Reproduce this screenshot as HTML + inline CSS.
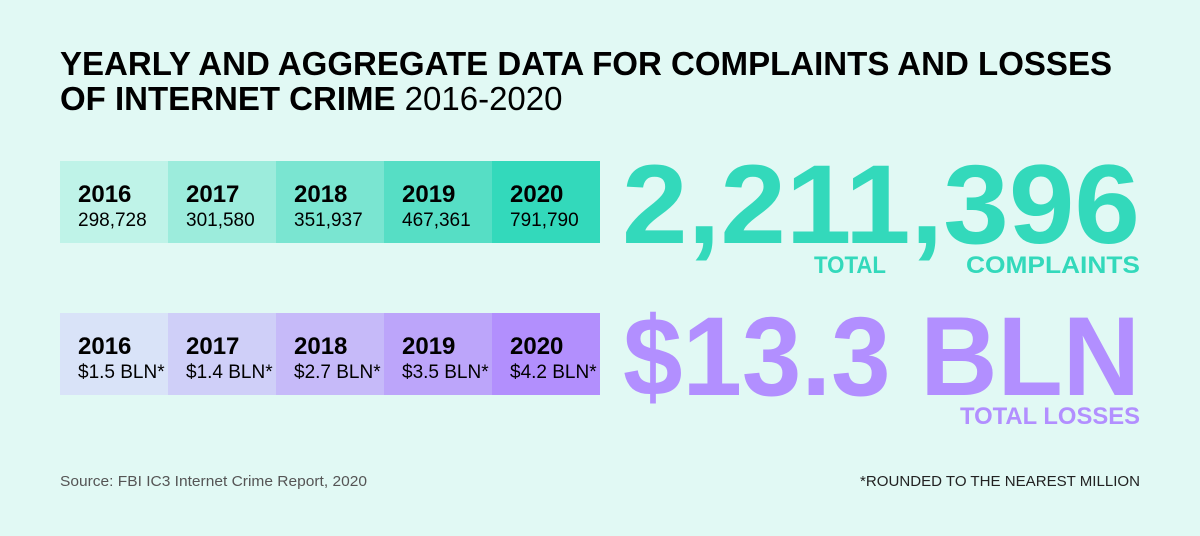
<!DOCTYPE html>
<html><head><meta charset="utf-8"><style>
html,body{margin:0;padding:0;background:#e1f9f4;}
svg{display:block;font-family:"Liberation Sans",sans-serif;}
</style></head><body>
<svg id="c" width="1200" height="536" viewBox="0 0 1200 536">
<rect width="1200" height="536" fill="#e1f9f4"/>
<text x="60" y="75" font-size="33" font-weight="bold" fill="#000" textLength="1052" lengthAdjust="spacingAndGlyphs">YEARLY AND AGGREGATE DATA FOR COMPLAINTS AND LOSSES</text>
<text x="60" y="110" font-size="33" fill="#000"><tspan font-weight="bold">OF INTERNET CRIME</tspan> 2016-2020</text>
<g id="cells"></g>
<text x="622" y="243" font-size="112" font-weight="bold" fill="#33d9bb" textLength="518" lengthAdjust="spacingAndGlyphs">2,211,396</text>
<text x="814" y="273" font-size="24" font-weight="bold" fill="#33d9bb" textLength="72" lengthAdjust="spacingAndGlyphs">TOTAL</text>
<text x="966" y="273" font-size="24" font-weight="bold" fill="#33d9bb" textLength="174" lengthAdjust="spacingAndGlyphs">COMPLAINTS</text>
<text x="623" y="395" font-size="112" font-weight="bold" fill="#b28fff" textLength="517" lengthAdjust="spacingAndGlyphs">$13.3 BLN</text>
<text x="960" y="424" font-size="24" font-weight="bold" fill="#b28fff" textLength="180" lengthAdjust="spacingAndGlyphs">TOTAL LOSSES</text>
<text x="60" y="486" font-size="15" fill="#555" textLength="307" lengthAdjust="spacingAndGlyphs">Source: FBI IC3 Internet Crime Report, 2020</text>
<text x="860" y="486" font-size="15" fill="#222" textLength="280" lengthAdjust="spacingAndGlyphs">*ROUNDED TO THE NEAREST MILLION</text>
</svg>
<script>
const years=["2016","2017","2018","2019","2020"];
const complaints=["298,728","301,580","351,937","467,361","791,790"];
const losses=["$1.5 BLN*","$1.4 BLN*","$2.7 BLN*","$3.5 BLN*","$4.2 BLN*"];
const tealColors=["#bff3e8","#9cecdc","#7ae5d1","#56dec5","#33d9bb"];
const purpleColors=["#d9e3f8","#cfcff8","#c6baf9","#bca5fa","#b28ffd"];
const NS="http://www.w3.org/2000/svg";
const g=document.getElementById('cells');
function row(y,vals,cols,kind){
  years.forEach((yr,i)=>{
    const x=60+i*108;
    const r=document.createElementNS(NS,'rect');
    r.setAttribute('x',x);r.setAttribute('y',y);r.setAttribute('width',108);r.setAttribute('height',82);r.setAttribute('fill',cols[i]);
    
    
    g.appendChild(r);
    const t=document.createElementNS(NS,'text');
    t.setAttribute('x',x+18);t.setAttribute('y',y+41);t.setAttribute('font-size','24');t.setAttribute('font-weight','bold');
    t.textContent=yr;
    
    
    g.appendChild(t);
    const v=document.createElementNS(NS,'text');
    v.setAttribute('x',x+18);v.setAttribute('y',y+65);v.setAttribute('font-size','19');
    v.textContent=vals[i];
    
    
    g.appendChild(v);
  });
}
row(161,complaints,tealColors,'complaints');
row(313,losses,purpleColors,'losses');
</script>
</body></html>
